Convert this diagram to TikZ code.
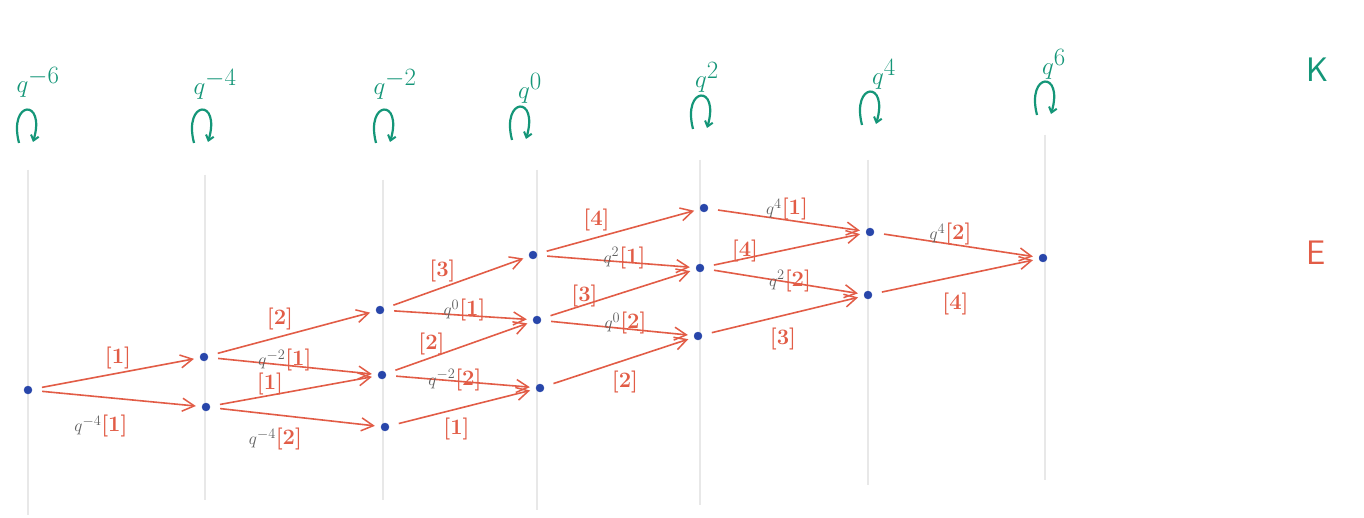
\documentclass[tikz,border=0pt]{standalone}
\usetikzlibrary{arrows.meta}
\definecolor{kteal}{RGB}{20,150,120}
\definecolor{ered}{RGB}{226,92,70}
\definecolor{dotblue}{RGB}{40,70,170}
\definecolor{qgray}{RGB}{95,95,95}
\definecolor{vline}{RGB}{232,232,232}
\tikzset{
  dot/.style={circle,fill=dotblue,draw=dotblue,inner sep=0pt,minimum size=8pt},
  edge/.style={draw=ered,line width=1.6pt,shorten <=10pt,shorten >=6pt,
    -{Straight Barb[length=12pt,width=13pt,line width=1.5pt]}},
  lbl/.style={text=ered,font=\fontsize{22}{24}\selectfont\bfseries,inner sep=1pt},
  klbl/.style={text=kteal,font=\fontsize{34}{36}\selectfont,inner sep=0pt},
  kloop/.style={draw=kteal,line width=2.2pt,-{Straight Barb[length=5pt,width=8pt,line width=2pt]}},
  col/.style={draw=vline,line width=1.1pt},
}
\newcommand{\gq}[1]{{\color{qgray}\fontsize{19}{21}\selectfont\mdseries$q^{#1}$}}
\newcommand{\kloopat}[1]{\draw[kloop] ([shift={(-10,17)}]#1) .. controls ([shift={(-21,-26)}]#1) and ([shift={(17,-28)}]#1) .. ([shift={(4,16)}]#1);}
\begin{document}
\begin{tikzpicture}[x=1pt,y=-1pt]
\useasboundingbox[fill=white] (0,0) rectangle (1364,518);
% columns
\foreach \x/\a/\b in {28/170/515, 205/175/500, 383/180/500, 537/170/510, 700/160/505, 868/160/485, 1045/135/480}
  \draw[col] (\x,\a) -- (\x,\b);
% K labels
\node[klbl] (k0) at (38,82) {$q^{-6}$};
\node[klbl] (k1) at (215,84) {$q^{-4}$};
\node[klbl] (k2) at (395,84) {$q^{-2}$};
\node[klbl] (k3) at (530,88) {$q^{0}$};
\node[klbl] (k4) at (707,77) {$q^{2}$};
\node[klbl] (k5) at (884,74) {$q^{4}$};
\node[klbl] (k6) at (1054,64) {$q^{6}$};
\coordinate (l0) at (29,126);
\coordinate (l1) at (204,126);
\coordinate (l2) at (386,126);
\coordinate (l3) at (522,123);
\coordinate (l4) at (703,112);
\coordinate (l5) at (872,108);
\coordinate (l6) at (1047,98);
\foreach \l in {l0,l1,l2,l3,l4,l5,l6} {\kloopat{\l}}
\node[text=kteal,font=\fontsize{34}{36}\selectfont\sffamily] (K) at (1318,70) {K};
\node[text=ered,font=\fontsize{34}{36}\selectfont\sffamily] (E) at (1316,253) {E};
% dots
\node[dot] (a0) at (28,390) {};
\node[dot] (b1) at (204,357) {};
\node[dot] (b2) at (206,407) {};
\node[dot] (c1) at (380,310) {};
\node[dot] (c2) at (382,375) {};
\node[dot] (c3) at (385,427) {};
\node[dot] (d1) at (533,255) {};
\node[dot] (d2) at (537,320) {};
\node[dot] (d3) at (540,388) {};
\node[dot] (e1) at (704,208) {};
\node[dot] (e2) at (700,268) {};
\node[dot] (e3) at (698,336) {};
\node[dot] (f1) at (870,232) {};
\node[dot] (f2) at (868,295) {};
\node[dot] (g)  at (1043,258) {};
% edges
\draw[edge] (a0) -- node[lbl,above=3pt,xshift=2pt] {[1]} (b1);
\draw[edge] (a0) -- node[lbl,below=15pt,xshift=-16pt] {\gq{-4}[1]} (b2);
\draw[edge] (b1) -- node[lbl,above=2pt,xshift=-12pt] {[2]} (c1);
\draw[edge] (b1) -- node[lbl,above=-7pt,xshift=-8pt] {\gq{-2}[1]} (c2);
\draw[edge] (b2) -- node[lbl,above=-6pt,xshift=-24pt] {[1]} (c2);
\draw[edge] (b2) -- node[lbl,below=9pt,xshift=-20pt] {\gq{-4}[2]} (c3);
\draw[edge] (c1) -- node[lbl,above=-1pt,xshift=-14pt] {[3]} (d1);
\draw[edge] (c1) -- node[lbl,above=-8pt,xshift=6pt] {\gq{0}[1]} (d2);
\draw[edge] (c2) -- node[lbl,above=-9pt,xshift=-28pt] {[2]} (d2);
\draw[edge] (c2) -- node[lbl,above=-11pt,xshift=-6pt] {\gq{-2}[2]} (d3);
\draw[edge] (c3) -- node[lbl,below=9pt,xshift=-6pt] {[1]} (d3);
\draw[edge] (d1) -- node[lbl,above=-1pt,xshift=-22pt] {[4]} (e1);
\draw[edge] (d1) -- node[lbl,above=-9pt,xshift=8pt] {\gq{2}[1]} (e2);
\draw[edge] (d2) -- node[lbl,above=-15pt,xshift=-34pt] {[3]} (e2);
\draw[edge] (d2) -- node[lbl,above=-8pt,xshift=8pt] {\gq{0}[2]} (e3);
\draw[edge] (d3) -- node[lbl,below=7pt,xshift=6pt] {[2]} (e3);
\draw[edge] (e1) -- node[lbl,above=-2pt] {\gq{4}[1]} (f1);
\draw[edge] (e2) -- node[lbl,above=-14pt,xshift=-40pt] {[4]} (f1);
\draw[edge] (e2) -- node[lbl,above=-12pt,xshift=6pt] {\gq{2}[2]} (f2);
\draw[edge] (e3) -- node[lbl,below=11pt] {[3]} (f2);
\draw[edge] (f1) -- node[lbl,above=-2pt,xshift=-6pt] {\gq{4}[2]} (g);
\draw[edge] (f2) -- node[lbl,below=15pt] {[4]} (g);
\end{tikzpicture}
\end{document}
